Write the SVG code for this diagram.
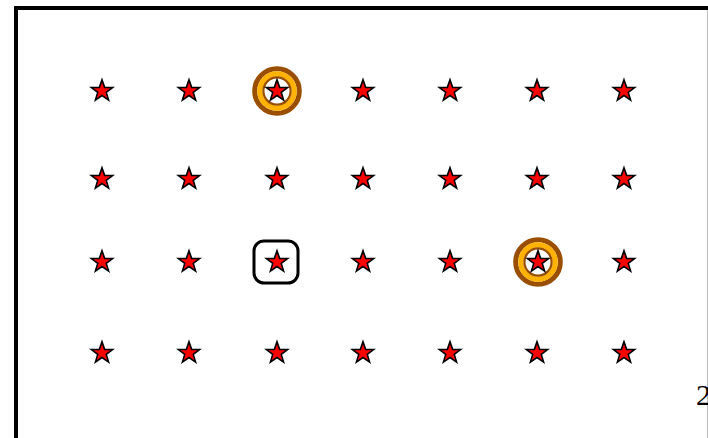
<svg xmlns="http://www.w3.org/2000/svg" width="708" height="438" viewBox="0 0 708 438">
<style>
.star{fill:#ff0000;stroke:#000;stroke-width:1.6;stroke-linejoin:miter}
.rb{fill:none;stroke:#9a4f00}
.ro{fill:none;stroke:#ffb300}
</style>
<defs>
<path id="st" d="M0,-11.2 L2.63,-3.62 L10.65,-3.46 L4.26,1.38 L6.58,9.06 L0,4.48 L-6.58,9.06 L-4.26,1.38 L-10.65,-3.46 L-2.63,-3.62 Z"/>
</defs>
<rect width="708" height="438" fill="#fff"/>
<rect x="16" y="8" width="720" height="460" fill="none" stroke="#000" stroke-width="4"/>
<line x1="707.5" y1="10" x2="707.5" y2="438" stroke="#bdbdbd" stroke-width="1"/>
<g id="markers">
<g id="ring1"><circle class="rb" cx="277" cy="91" r="22.3" stroke-width="5"/><circle class="ro" cx="277" cy="91" r="17.2" stroke-width="5.2"/><circle class="rb" cx="277" cy="91" r="13.6" stroke-width="2.2"/></g>
<g id="ring2"><circle class="rb" cx="538" cy="262" r="22.3" stroke-width="5"/><circle class="ro" cx="538" cy="262" r="17.2" stroke-width="5.2"/><circle class="rb" cx="538" cy="262" r="13.6" stroke-width="2.2"/></g>
<g id="box1"><rect x="254" y="241" width="44" height="42" rx="10" fill="none" stroke="#000" stroke-width="3"/></g>
</g>
<g id="stars">
<g id="r1">
<use href="#st" class="star" x="102" y="91"/><use href="#st" class="star" x="189" y="91"/><use href="#st" class="star" x="277" y="91"/><use href="#st" class="star" x="363" y="91"/><use href="#st" class="star" x="450" y="91"/><use href="#st" class="star" x="537" y="91"/><use href="#st" class="star" x="624" y="91"/>
</g>
<g id="r2">
<use href="#st" class="star" x="102" y="179"/><use href="#st" class="star" x="189" y="179"/><use href="#st" class="star" x="277" y="179"/><use href="#st" class="star" x="363" y="179"/><use href="#st" class="star" x="450" y="179"/><use href="#st" class="star" x="537" y="179"/><use href="#st" class="star" x="624" y="179"/>
</g>
<g id="r3">
<use href="#st" class="star" x="102" y="262"/><use href="#st" class="star" x="189" y="262"/><use href="#st" class="star" x="277" y="262"/><use href="#st" class="star" x="363" y="262"/><use href="#st" class="star" x="450" y="262"/><use href="#st" class="star" x="538" y="262"/><use href="#st" class="star" x="624" y="262"/>
</g>
<g id="r4">
<use href="#st" class="star" x="102" y="353"/><use href="#st" class="star" x="189" y="353"/><use href="#st" class="star" x="277" y="353"/><use href="#st" class="star" x="363" y="353"/><use href="#st" class="star" x="450" y="353"/><use href="#st" class="star" x="537" y="353"/><use href="#st" class="star" x="624" y="353"/>
</g>
</g>
<text x="696" y="405" font-family="Liberation Serif, serif" font-size="30" fill="#000">2</text>
</svg>
